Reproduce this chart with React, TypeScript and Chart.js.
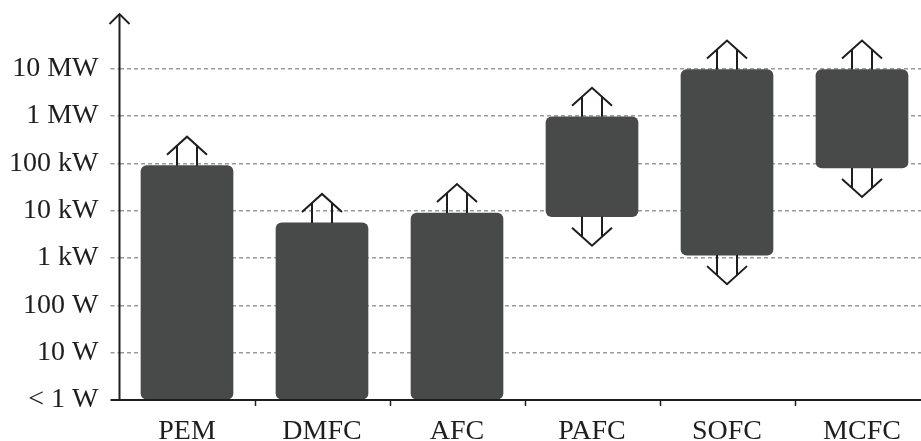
import React, { useEffect, useRef } from "react";
import { Chart, registerables } from "chart.js";

Chart.register(...registerables);

const categories = ["PEM", "DMFC", "AFC", "PAFC", "SOFC", "MCFC"];
// log10 of power in watts (0 = 1 W ... 7 = 10 MW)
const lowValues = [0, 0, 0, 3.87, 3.06, 4.9];
const highValues = [4.95, 3.74, 3.95, 5.98, 6.98, 6.98];
const arrowUp = [true, true, true, true, true, true];
const arrowDown = [false, false, false, true, true, true];
const tickLabels = ["< 1 W", "10 W", "100 W", "1 kW", "10 kW", "100 kW", "1 MW", "10 MW"];

const FONT = "'Liberation Serif', 'Times New Roman', serif";
const INK = "#1e1e1e";

const decorPlugin = {
  id: "decor",
  afterDraw(chart: any) {
    const ctx = chart.ctx;
    const area = chart.chartArea;
    const xs = chart.scales.x;
    ctx.save();
    ctx.strokeStyle = INK;
    ctx.lineCap = "butt";
    ctx.lineJoin = "miter";
    // y axis with arrow
    ctx.lineWidth = 2;
    const ax = area.left;
    ctx.beginPath();
    ctx.moveTo(ax, area.bottom);
    ctx.lineTo(ax, 15);
    ctx.stroke();
    ctx.lineWidth = 1.8;
    ctx.beginPath();
    ctx.moveTo(ax - 10, 24);
    ctx.lineTo(ax, 14);
    ctx.lineTo(ax + 10, 24);
    ctx.stroke();
    // x axis line
    ctx.lineWidth = 2;
    ctx.beginPath();
    ctx.moveTo(area.left - 9, area.bottom);
    ctx.lineTo(chart.width, area.bottom);
    ctx.stroke();
    // small ticks between categories
    ctx.lineWidth = 1.5;
    for (let i = 0; i < categories.length - 1; i++) {
      const px = Math.round(xs.getPixelForValue(i + 0.5)) + 0.5;
      ctx.beginPath();
      ctx.moveTo(px, area.bottom);
      ctx.lineTo(px, area.bottom + 6);
      ctx.stroke();
    }
    // arrows on bars
    const meta = chart.getDatasetMeta(0);
    ctx.lineWidth = 2;
    meta.data.forEach((el: any, i: number) => {
      const top = Math.min(el.y, el.base);
      const bot = Math.max(el.y, el.base);
      const cx = el.x;
      const L = 29;
      const shaft = 10;
      const wingX = 20;
      const wingY = 18;
      if (arrowUp[i]) {
        const apex = top - L;
        const meet = apex + wingY * (shaft / wingX);
        ctx.beginPath();
        ctx.moveTo(cx - shaft, top);
        ctx.lineTo(cx - shaft, meet);
        ctx.moveTo(cx + shaft, top);
        ctx.lineTo(cx + shaft, meet);
        ctx.moveTo(cx - wingX, apex + wingY);
        ctx.lineTo(cx, apex);
        ctx.lineTo(cx + wingX, apex + wingY);
        ctx.stroke();
      }
      if (arrowDown[i]) {
        const apex = bot + L;
        const meet = apex - wingY * (shaft / wingX);
        ctx.beginPath();
        ctx.moveTo(cx - shaft, bot);
        ctx.lineTo(cx - shaft, meet);
        ctx.moveTo(cx + shaft, bot);
        ctx.lineTo(cx + shaft, meet);
        ctx.moveTo(cx - wingX, apex - wingY);
        ctx.lineTo(cx, apex);
        ctx.lineTo(cx + wingX, apex - wingY);
        ctx.stroke();
      }
    });
    ctx.restore();
  },
};

export default function App() {
  const ref = useRef<HTMLCanvasElement>(null);
  useEffect(() => {
    if (!ref.current) return;
    const data = categories.map((c, i) => ({ x: i, y: [lowValues[i], highValues[i]] }));
    const chart = new Chart(ref.current, {
      type: "bar",
      data: {
        datasets: [
          {
            data: data as any,
            backgroundColor: "#484949",
            borderWidth: 0,
            borderRadius: 6,
            borderSkipped: false,
            barThickness: 92,
          },
        ],
      },
      options: {
        animation: false,
        responsive: false,
        maintainAspectRatio: false,
        devicePixelRatio: 1,
        layout: { padding: { top: 20, right: 0, left: 0, bottom: 0 } },
        plugins: { legend: { display: false }, tooltip: { enabled: false } },
        scales: {
          x: {
            type: "linear",
            offset: false,
            min: -0.5,
            max: -0.5 + 801.5 / 135,
            afterBuildTicks: (s: any) => {
              s.ticks = categories.map((_, i) => ({ value: i }));
            },
            afterFit: (s: any) => {
              s.height = 41;
            },
            grid: { display: false, drawTicks: false },
            border: { display: false },
            ticks: {
              autoSkip: false,
              maxRotation: 0,
              padding: 15,
              color: INK,
              font: { family: FONT, size: 28 },
              callback: (v: any) => categories[v] ?? "",
            },
          },
          y: {
            type: "linear",
            min: 0,
            max: 7.84,
            z: 1,
            afterBuildTicks: (s: any) => {
              s.ticks = tickLabels.map((_, i) => ({ value: i }));
            },
            afterFit: (s: any) => {
              s.width = 119.5;
            },
            border: { display: false, dash: [4, 3] },
            grid: {
              color: (c: any) => (c.tick && c.tick.value >= 1 && c.tick.value <= 7 ? "#9a9a9a" : "rgba(0,0,0,0)"),
              lineWidth: 1.5,
              tickLength: 9,
              tickColor: (c: any) => (c.tick && c.tick.value >= 1 && c.tick.value <= 7 ? "#9a9a9a" : "rgba(0,0,0,0)"),
              tickBorderDash: [4, 3],
              tickBorderDashOffset: 0,
            } as any,
            ticks: {
              autoSkip: false,
              padding: 12,
              color: INK,
              font: { family: FONT, size: 28 },
              callback: (v: any) => tickLabels[v] ?? "",
            },
          },
        },
      } as any,
      plugins: [decorPlugin],
    });
    return () => chart.destroy();
  }, []);
  return (
    <div style={{ position: "fixed", left: 0, top: 0, width: 921, height: 441, background: "#fff" }}>
      <canvas ref={ref} width={921} height={441} style={{ width: 921, height: 441 }} />
    </div>
  );
}
